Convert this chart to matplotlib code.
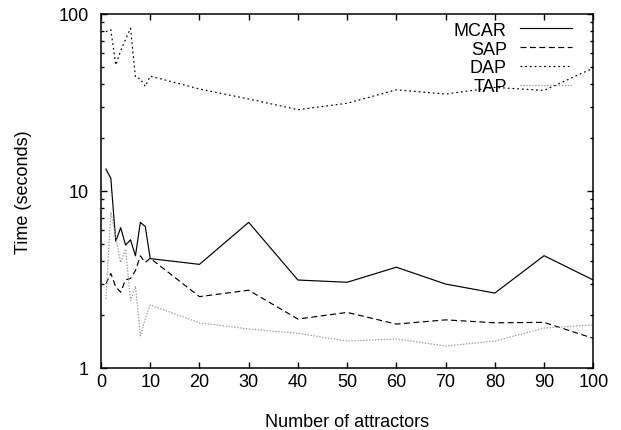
import matplotlib
matplotlib.use("Agg")
import matplotlib.pyplot as plt
from matplotlib.ticker import LogLocator, FixedLocator, NullFormatter

plt.rcParams['font.family'] = ['Liberation Sans', 'DejaVu Sans']

# data
attractors = [1, 2, 3, 4, 5, 6, 7, 8, 9, 10, 20, 30, 40, 50, 60, 70, 80, 90, 100]
mcar = [13.3, 11.8, 5.2, 6.2, 4.95, 5.3, 4.3, 6.65, 6.3, 4.15,
        3.85, 6.65, 3.14, 3.05, 3.71, 2.98, 2.65, 4.31, 3.14]
sap = [2.98, 3.42, 2.87, 2.68, 3.15, 3.2, 3.55, 4.3, 3.95, 4.17,
       2.53, 2.75, 1.89, 2.06, 1.77, 1.87, 1.80, 1.81, 1.47]
dap = [79.5, 81.5, 51.5, 62.0, 72.0, 83.0, 44.0, 43.0, 39.0, 44.6,
       37.7, 33.1, 28.8, 31.3, 37.3, 35.3, 38.5, 37.0, 49.5]
tap = [2.45, 7.6, 5.5, 3.95, 4.7, 2.4, 2.9, 1.52, 1.9, 2.27,
       1.80, 1.66, 1.57, 1.42, 1.46, 1.33, 1.42, 1.68, 1.75]

FS = 13

fig = plt.figure(figsize=(6.21, 4.31), dpi=100)
ax = fig.add_axes([0.1626, 0.1439, 0.7928, 0.8213])

ax.plot(attractors, mcar, color='black', lw=0.85, label='MCAR')
ax.plot(attractors, sap, color='black', lw=0.85, ls=(0, (5, 3)), label='SAP')
ax.plot(attractors, dap, color='black', lw=0.85, ls=(0, (1.5, 2.5)), label='DAP')
ax.plot(attractors, tap, color='#999999', lw=0.85, ls=(0, (1.2, 1.3)), label='TAP')

ax.set_yscale('log')
ax.set_xlim(0, 100)
ax.set_ylim(1, 100)
ax.xaxis.set_major_locator(FixedLocator(range(0, 101, 10)))
ax.yaxis.set_major_locator(FixedLocator([1, 10, 100]))
ax.yaxis.set_minor_locator(LogLocator(base=10, subs=range(2, 10)))
ax.yaxis.set_minor_formatter(NullFormatter())
ax.set_yticklabels(['1', '10', '100'])

ax.tick_params(which='both', direction='in', top=True, right=True,
               labelsize=FS, width=1.0)
ax.tick_params(axis='y', which='major', length=4, pad=9)
ax.tick_params(axis='x', which='major', length=4, pad=3.5)
ax.tick_params(which='minor', length=2.2)
for s in ax.spines.values():
    s.set_linewidth(1.1)

ax.set_xlabel('Number of attractors', fontsize=FS, labelpad=17)
ax.set_ylabel('Time (seconds)', fontsize=FS, labelpad=19)

leg = ax.legend(loc='upper right', bbox_to_anchor=(0.957, 0.978), frameon=False,
                markerfirst=False, fontsize=FS, handlelength=2.9,
                handletextpad=0.72, labelspacing=0.1, borderpad=0, borderaxespad=0)
for col in leg._legend_handle_box.get_children():
    col.align = 'right'

fig.savefig('out.png', dpi=100)
